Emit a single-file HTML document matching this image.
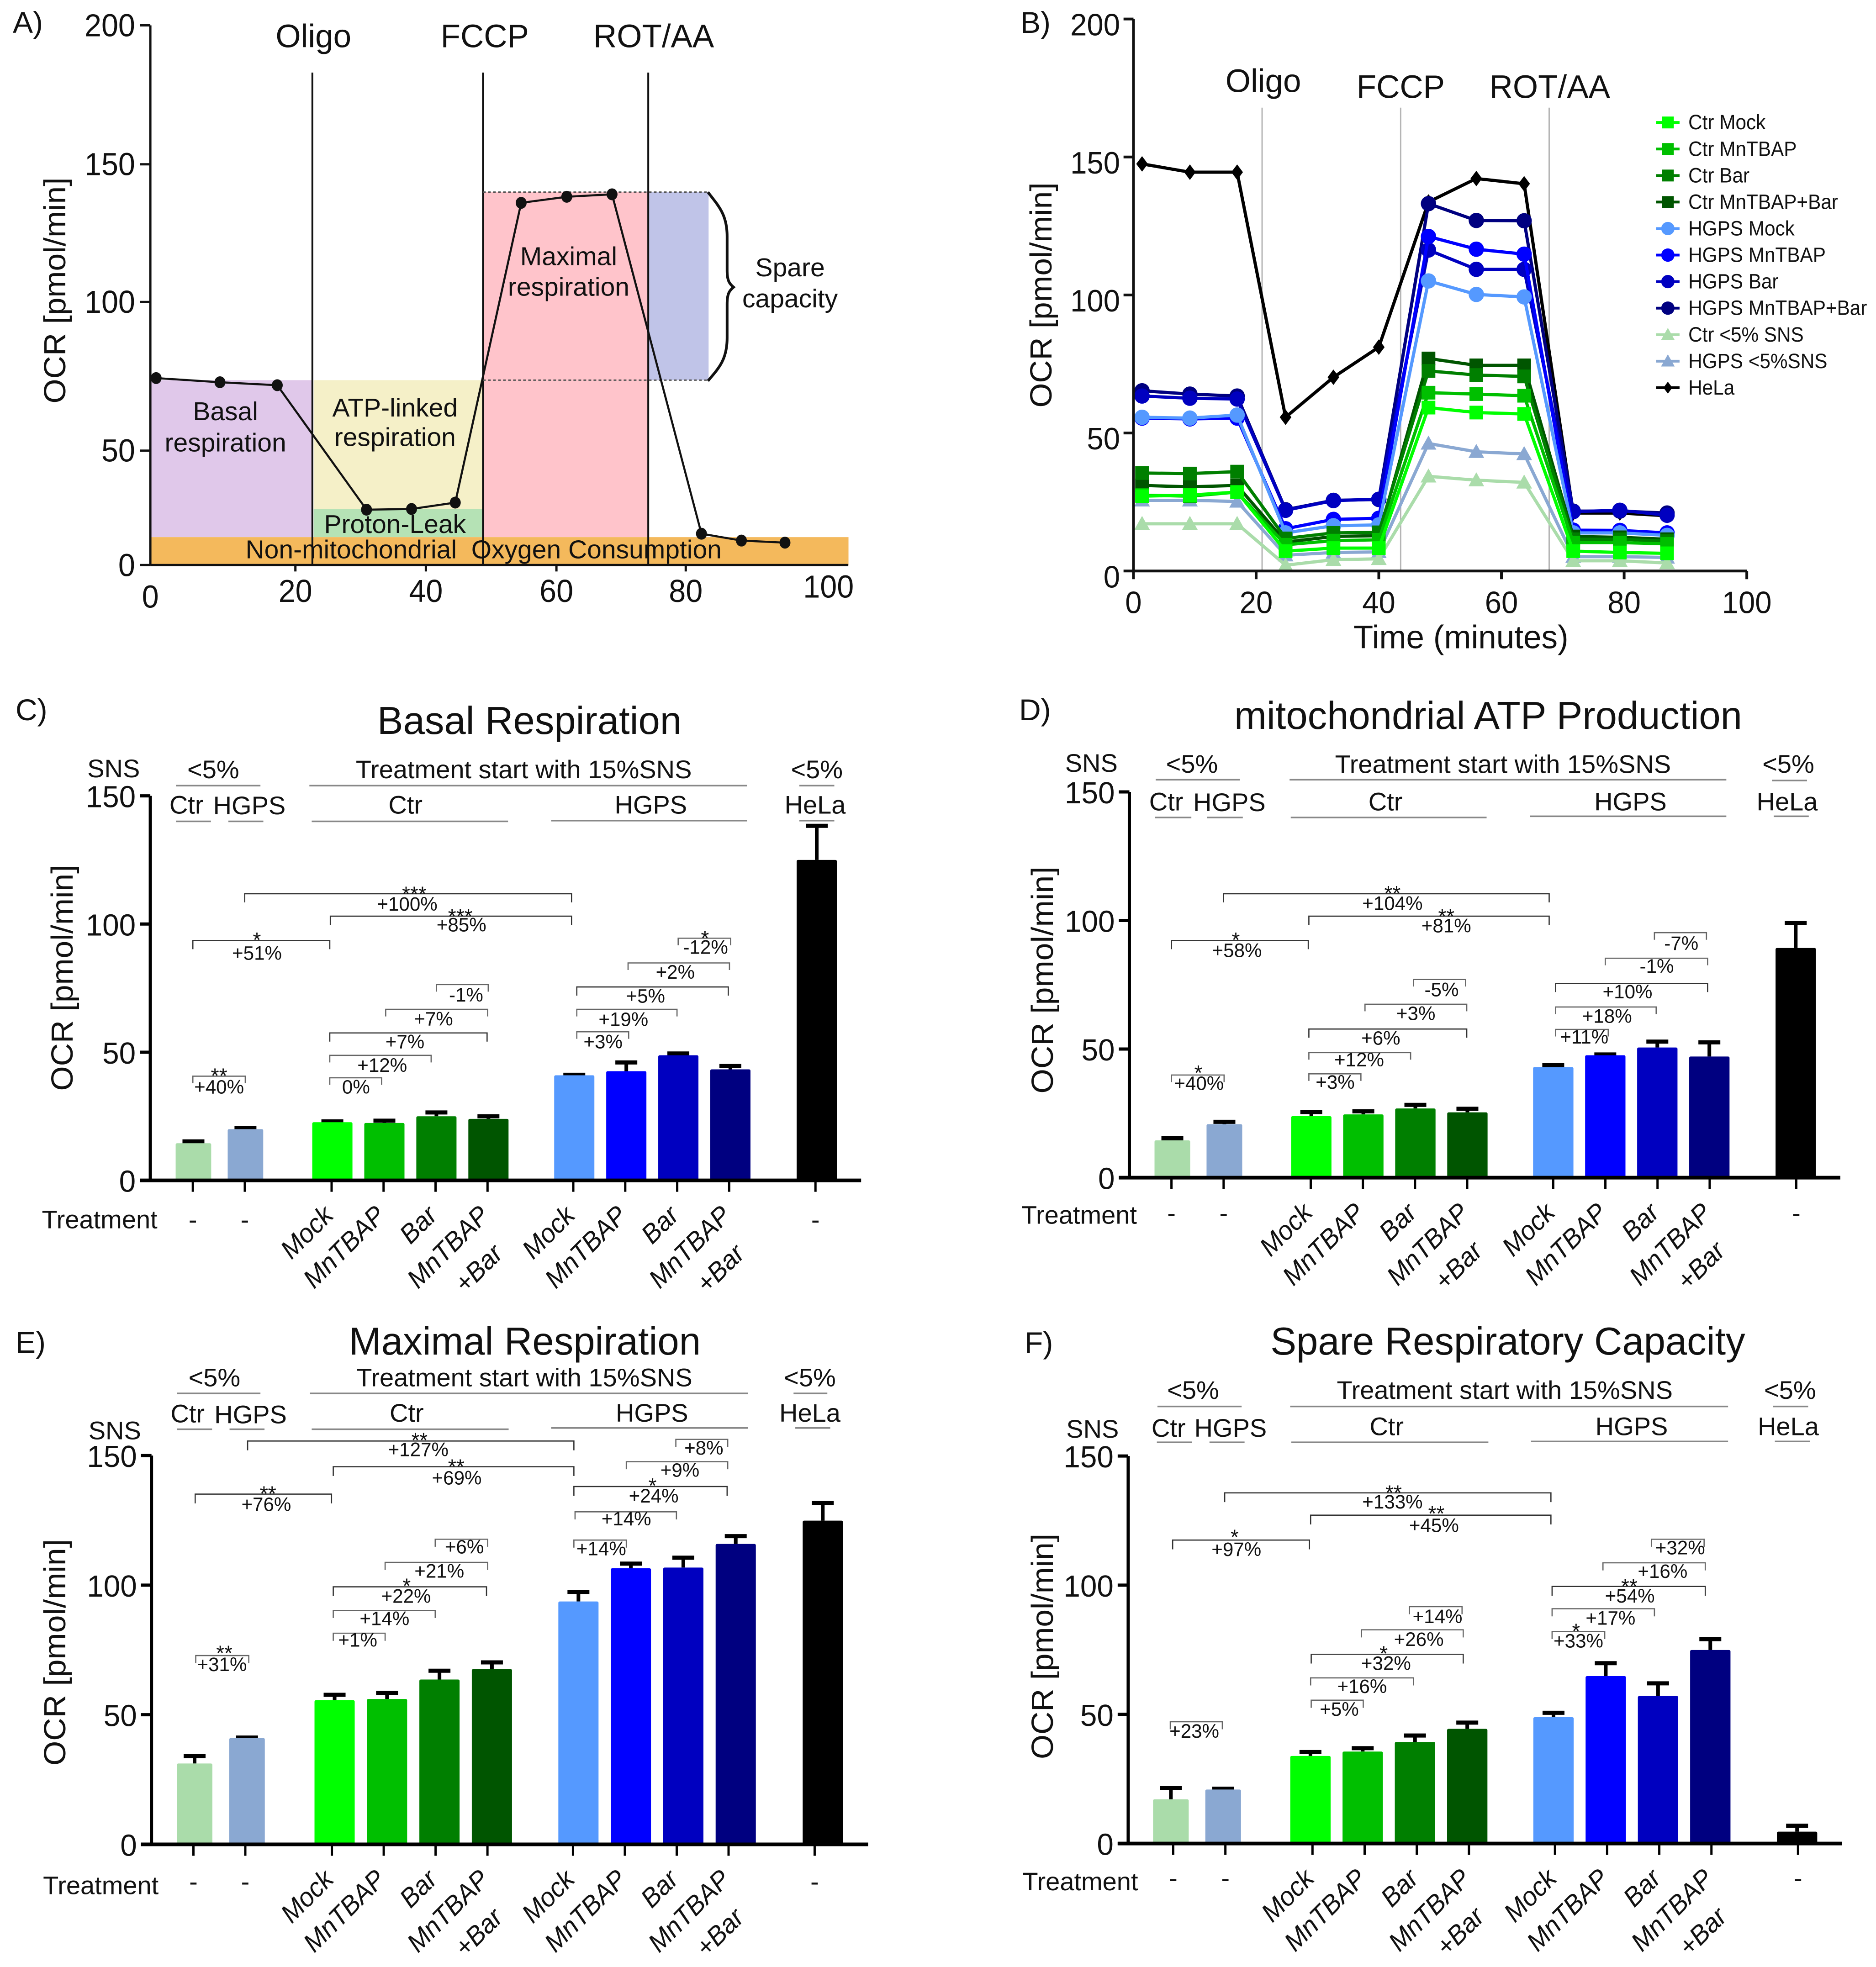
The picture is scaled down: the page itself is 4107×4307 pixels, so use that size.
<!DOCTYPE html>
<html lang="en">
<head>
<meta charset="utf-8">
<title>Mitochondrial respiration figure</title>
<style>
html,body{margin:0;padding:0;background:#fff}
svg{display:block}
text{font-family:"Liberation Sans",sans-serif;fill:#111;white-space:pre}
</style>
</head>
<body>
<svg id="figure" xmlns="http://www.w3.org/2000/svg" width="4107" height="4307" viewBox="0 0 4107 4307">
<rect x="0" y="0" width="4107" height="4307" fill="#fff"/>
<g id="layerA"></g>
<g id="layerB"></g>
<g id="layerC"></g>
<g id="layerD"></g>
<g id="layerE"></g>
<g id="layerF"></g>

<text x="28" y="72" font-size="66">A)</text>
<text x="2234" y="72" font-size="66">B)</text>
<text x="34" y="1577" font-size="66">C)</text>
<text x="2231" y="1577" font-size="66">D)</text>
<text x="34" y="2962" font-size="66">E)</text>
<text x="2243" y="2963" font-size="66">F)</text>

<text x="1159" y="1607" font-size="85" text-anchor="middle">Basal Respiration</text>
<text x="3258" y="1596" font-size="85" text-anchor="middle">mitochondrial ATP Production</text>
<text x="1149" y="2966" font-size="85" text-anchor="middle">Maximal Respiration</text>
<text x="3301" y="2966" font-size="85" text-anchor="middle">Spare Respiratory Capacity</text>

<text transform="translate(143,636) rotate(-90)" font-size="67" text-anchor="middle" textLength="495" lengthAdjust="spacingAndGlyphs">OCR [pmol/min]</text>
<text transform="translate(2302,646) rotate(-90)" font-size="67" text-anchor="middle" textLength="493" lengthAdjust="spacingAndGlyphs">OCR [pmol/min]</text>
<text transform="translate(159,2141) rotate(-90)" font-size="67" text-anchor="middle" textLength="495" lengthAdjust="spacingAndGlyphs">OCR [pmol/min]</text>
<text transform="translate(2305,2146) rotate(-90)" font-size="67" text-anchor="middle" textLength="497" lengthAdjust="spacingAndGlyphs">OCR [pmol/min]</text>
<text transform="translate(143,3618) rotate(-90)" font-size="67" text-anchor="middle" textLength="496" lengthAdjust="spacingAndGlyphs">OCR [pmol/min]</text>
<text transform="translate(2305,3605) rotate(-90)" font-size="67" text-anchor="middle" textLength="494" lengthAdjust="spacingAndGlyphs">OCR [pmol/min]</text>
</svg>

<script>
/* ---------- Panel A data ---------- */
const aTimes = [0.8, 9.6, 17.5, 30.9, 37.8, 44.5, 54.6, 61.6, 68.6, 82.2, 87.8, 93.9];
const aOcr = [74.4, 73.0, 72.0, 24.2, 24.5, 27.3, 136.0, 138.2, 139.1, 13.7, 10.7, 9.8];
const aXTickLabels = [0, 20, 40, 60, 80, 100];
const aYTickLabels = [0, 50, 100, 150, 200];

/* ---------- Panel B data ---------- */
const bTimes = [1.4, 9.2, 16.9, 24.8, 32.6, 40, 48.1, 55.9, 63.7, 71.7, 79.3, 87];
const bXTickLabels = [0, 20, 40, 60, 80, 100];
const bYTickLabels = [0, 50, 100, 150, 200];
const bCtrMock = [27.1, 27.5, 28.6, 7.2, 8.3, 8.3, 59.2, 57.4, 56.9, 7.2, 6.7, 6.4];
const bCtrMnTBAP = [27.5, 27.1, 28.6, 9.5, 11, 11.3, 64.6, 64.1, 63.5, 10.3, 10.3, 9.8];
const bCtrBar = [35.5, 35.3, 36, 11.8, 13.8, 14, 72.5, 71, 70.5, 11.5, 11.5, 10.8];
const bCtrMnTBAPBar = [31, 30.5, 31, 10.5, 12.5, 12.8, 77, 74.5, 74.5, 12.5, 12.2, 11.5];
const bHgpsMock = [55.7, 55.4, 56.5, 13.8, 16.4, 16.7, 105.1, 100.2, 99.3, 13.8, 13.8, 12.9];
const bHgpsMnTBAP = [55.4, 55.1, 55.4, 15.3, 18.7, 19.1, 121.2, 116.6, 114.8, 14.8, 14.7, 13.8];
const bHgpsBar = [63.4, 62.6, 62.3, 22, 25.5, 26, 116.3, 109.3, 109.3, 21.5, 22, 20.2];
const bHgpsMnTBAPBar = [65.3, 64.1, 63.4, 22.2, 25.6, 25.9, 133.1, 127, 126.9, 21.7, 21.7, 21];
const bCtrLow = [17.1, 17.1, 17.1, 2.1, 4.1, 4.4, 34.3, 32.9, 32.1, 3.7, 3.7, 2.9];
const bHgpsLow = [25.6, 25.6, 25.2, 5.7, 6.7, 6.9, 46.2, 43.2, 42.4, 5.2, 5.2, 4.9];
const bHeLa = [147.5, 144.5, 144.5, 55.7, 70.2, 81.1, 133.7, 142.2, 140.3, 21, 21, 20];
const bSeriesNames = ["Ctr Mock", "Ctr MnTBAP", "Ctr Bar", "Ctr MnTBAP+Bar", "HGPS Mock", "HGPS MnTBAP", "HGPS Bar", "HGPS MnTBAP+Bar", "Ctr <5% SNS", "HGPS <5%SNS", "HeLa"];

/* ---------- Bar panel data ---------- */
const barCategories = ["-", "-", "Mock", "MnTBAP", "Bar", "MnTBAP|+Bar", "Mock", "MnTBAP", "Bar", "MnTBAP|+Bar", "-"];
const barYTickLabels = [0, 50, 100, 150];
const basalValues = [14.5, 20, 22.7, 22.4, 25, 24, 41, 42.6, 48.8, 43.3, 125];
const basalErrors = [0.7, 0.4, 0.3, 0.9, 1.5, 1, 0.2, 3.4, 0.7, 1.3, 13.3];
const atpValues = [14.5, 20.8, 23.9, 24.6, 26.9, 25.4, 43, 47.6, 50.6, 47.1, 89.3];
const atpErrors = [0.8, 0.9, 1.6, 1.2, 1.4, 1.4, 0.7, 0.3, 2.3, 5.5, 9.7];
const maximalValues = [31.2, 41, 55.6, 56.1, 63.6, 67.6, 93.7, 106.5, 106.8, 115.9, 124.9];
const maximalErrors = [2.8, 0.2, 2.1, 2.3, 3.4, 2.6, 3.7, 1.8, 3.8, 3, 6.8];
const spareValues = [17.1, 20.9, 33.9, 35.6, 39.3, 44.4, 48.9, 64.8, 57.1, 74.9, 4.6];
const spareErrors = [4.3, 0.3, 1.5, 1.3, 2.5, 2.4, 1.7, 5, 4.9, 4.2, 2.3];

/* ---------- Styles ---------- */
const barColors = ["#aadcaa", "#8aa8d2", "#00ff00", "#00bf00", "#007f00", "#005500", "#5599ff", "#0000ff", "#0000c0", "#000080", "#000000"];
const bSeriesColors = ["#00ff00", "#00bf00", "#007f00", "#005500", "#5599ff", "#0000ff", "#0000c0", "#000080", "#aadcaa", "#8aa8d2", "#000000"];
const bSeriesShapes = ["square", "square", "square", "square", "circle", "circle", "circle", "circle", "triangle", "triangle", "diamond"];

const SVGNS = "http://www.w3.org/2000/svg";

function zoomFrame(x0, y0, w, h) {
  return { X: function (z) { return x0 + z * w / 1568; }, Y: function (z) { return y0 + z * h / 1568; } };
}
function piecewise(dom, rng) {
  return function (v) {
    let i = 1;
    while (i < dom.length - 1 && v > dom[i]) i++;
    const t = (v - dom[i - 1]) / (dom[i] - dom[i - 1]);
    return rng[i - 1] + t * (rng[i] - rng[i - 1]);
  };
}
function shape(parent, tag, attrs, name) {
  const e = document.createElementNS(SVGNS, tag);
  for (const k in attrs) e.setAttribute(k, attrs[k]);
  
  
  parent.appendChild(e);
  return e;
}
function label(parent, str, x, y, size, name, anchor, sx, rot, italic) {
  const e = document.createElementNS(SVGNS, "text");
  e.textContent = str;
  e.setAttribute("font-size", size);
  e.setAttribute("text-anchor", anchor || "middle");
  e.setAttribute("transform", "translate(" + x + "," + y + ")" + (rot ? " rotate(" + rot + ")" : "") + " scale(" + (sx || 1) + ",1)");
  if (italic) e.setAttribute("font-style", "italic");
  
  
  parent.appendChild(e);
  return e;
}
function line(parent, x1, y1, x2, y2, stroke, w, name, extra) {
  const a = { x1: x1, y1: y1, x2: x2, y2: y2, stroke: stroke, "stroke-width": w };
  if (extra) for (const k in extra) a[k] = extra[k];
  return shape(parent, "line", a, name);
}

/* ---------- Panel A ---------- */
(function () {
  const g = document.getElementById("layerA");
  const F = zoomFrame(0, 0, 2000, 1450);
  const xZ = piecewise(aXTickLabels, [258, 507, 731, 955, 1177, 1422]);
  const yZ = piecewise(aYTickLabels, [1338, 1067, 715, 389, 60]);
  const x = function (v) { return F.X(xZ(v)); };
  const y = function (v) { return F.Y(yZ(v)); };
  function region(x1, x2, v1, v2, fill, name) {
    shape(g, "rect", { x: x(x1), y: y(v2), width: x(x2) - x(x1), height: y(v1) - y(v2), fill: fill }, name);
  }
  region(0, 22.6, 12.2, 73.7, "#e0c8ea", "basal-respiration-region");
  region(22.8, 48.75, 24.5, 73.7, "#f5f0c8", "atp-linked-region");
  region(22.8, 48.75, 12.2, 24.5, "#b5e2b5", "proton-leak-region");
  region(48.75, 74.2, 12.2, 139.9, "#ffc4cb", "maximal-respiration-region");
  region(74.2, 83.2, 73.7, 139.9, "#c0c4e8", "spare-capacity-region");
  region(0, 102.8, 0, 12.2, "#f4b95c", "non-mitochondrial-region");

  [22.6, 48.75, 74.2].forEach(function (v) {
    line(g, x(v), y(183), x(v), y(0), "#111", 4, "injection-line");
  });
  [139.9, 73.7].forEach(function (v) {
    line(g, x(48.75), y(v), x(83.2), y(v), "#555", 3, "dashed-guide", { "stroke-dasharray": "6 5" });
  });
  const bx = F.X, by = F.Y;
  shape(g, "path", { d: "M" + bx(1215) + " " + by(455) + " C" + bx(1235) + " " + by(490) + " " + bx(1248) + " " + by(510) + " " + bx(1248) + " " + by(560) +
    " L" + bx(1248) + " " + by(640) + " C" + bx(1248) + " " + by(665) + " " + bx(1252) + " " + by(672) + " " + bx(1259) + " " + by(680) +
    " C" + bx(1252) + " " + by(688) + " " + bx(1248) + " " + by(695) + " " + bx(1248) + " " + by(720) +
    " L" + bx(1248) + " " + by(800) + " C" + bx(1248) + " " + by(850) + " " + bx(1235) + " " + by(870) + " " + bx(1215) + " " + by(902),
    fill: "none", stroke: "#111", "stroke-width": 6 }, "spare-capacity-brace");

  line(g, x(0), y(200), x(0), y(0), "#111", 5, "y-axis");
  line(g, F.X(258), y(0), F.X(1456), y(0), "#111", 5, "x-axis");
  aYTickLabels.forEach(function (v) {
    line(g, F.X(240), y(v), F.X(258), y(v), "#111", 5, "y-tick");
    label(g, String(v), F.X(232), y(v) + 24, 70, "y-tick-label", "end", 0.95);
  });
  aXTickLabels.forEach(function (v) {
    if (v > 0 && v < 100) line(g, x(v), y(0), x(v), y(0) + 14, "#111", 5, "x-tick");
    const dz = v === 0 ? 14 : (v === 100 ? -10 : 0);
    label(g, String(v), x(v), F.Y(1425 + dz), 70, "x-tick-label", "middle", 0.95);
  });
  shape(g, "polyline", { points: aTimes.map(function (t, i) { return x(t) + "," + y(aOcr[i]); }).join(" "), fill: "none", stroke: "#111", "stroke-width": 4.5 }, "ocr-line");
  aTimes.forEach(function (t, i) {
    shape(g, "ellipse", { cx: x(t), cy: y(aOcr[i]), rx: 12, ry: 13, fill: "#111" }, "ocr-point");
  });
  [["Oligo", 538], ["FCCP", 832], ["ROT/AA", 1122]].forEach(function (d) {
    label(g, d[0], F.X(d[1]), F.Y(112), 71, "injection-label");
  });
  [["Basal", 387, 995], ["respiration", 387, 1069], ["ATP-linked", 678, 986], ["respiration", 678, 1056], ["Proton-Leak", 678, 1262],
   ["Maximal", 976, 628], ["respiration", 976, 700], ["Spare", 1356, 654], ["capacity", 1356, 728],
   ["Non-mitochondrial  Oxygen Consumption", 830, 1322]].forEach(function (d) {
    label(g, d[0], F.X(d[1]), F.Y(d[2]), 57, "region-label");
  });
})();

/* ---------- Panel B ---------- */
(function () {
  const g = document.getElementById("layerB");
  const F = zoomFrame(2100, 0, 2007, 1450);
  const x = function (v) { return F.X(298 + 10.49 * v); };
  const y = function (v) { return F.Y(1352 - 6.535 * v); };
  const seriesValues = [bCtrMock, bCtrMnTBAP, bCtrBar, bCtrMnTBAPBar, bHgpsMock, bHgpsMnTBAP, bHgpsBar, bHgpsMnTBAPBar, bCtrLow, bHgpsLow, bHeLa];

  function marker(parent, kind, cx, cy, r, fill, name) {
    if (kind === "square") shape(parent, "rect", { x: cx - r, y: cy - r, width: 2 * r, height: 2 * r, fill: fill }, name);
    else if (kind === "circle") shape(parent, "circle", { cx: cx, cy: cy, r: r * 1.12, fill: fill }, name);
    else if (kind === "triangle") shape(parent, "polygon", { points: cx + "," + (cy - r * 1.15) + " " + (cx + r * 1.15) + "," + (cy + r * 0.9) + " " + (cx - r * 1.15) + "," + (cy + r * 0.9), fill: fill }, name);
    else shape(parent, "polygon", { points: cx + "," + (cy - r) + " " + (cx + r * 0.75) + "," + cy + " " + cx + "," + (cy + r) + " " + (cx - r * 0.75) + "," + cy, fill: fill }, name);
  }

  [518, 755, 1009].forEach(function (z) {
    line(g, F.X(z), F.Y(255), F.X(z), y(0), "#b5b5b5", 3, "injection-line");
  });
  [["Oligo", 520, 218], ["FCCP", 755, 232], ["ROT/AA", 1010, 232]].forEach(function (d) {
    label(g, d[0], F.X(d[1]), F.Y(d[2]), 71, "injection-label");
  });

  [10, 7, 6, 5, 4, 9, 8, 3, 2, 1, 0].forEach(function (s) {
    const vals = seriesValues[s];
    shape(g, "polyline", { points: bTimes.map(function (t, i) { return x(t) + "," + y(vals[i]); }).join(" "), fill: "none", stroke: bSeriesColors[s], "stroke-width": 7 }, "series-line");
    bTimes.forEach(function (t, i) {
      marker(g, bSeriesShapes[s], x(t), y(vals[i]), s === 10 ? 17 : 15, bSeriesColors[s], "series-point");
    });
  });

  line(g, x(0), y(200), x(0), y(0), "#111", 6, "y-axis");
  line(g, x(0), y(0), x(100), y(0), "#111", 6, "x-axis");
  bYTickLabels.forEach(function (v) {
    line(g, F.X(281), y(v), x(0), y(v), "#111", 6, "y-tick");
    label(g, String(v), F.X(275), y(v) + 36, 68, "y-tick-label", "end", 0.96);
  });
  bXTickLabels.forEach(function (v) {
    line(g, x(v), y(0), x(v), y(0) + 18, "#111", 6, "x-tick");
    label(g, String(v), x(v), F.Y(1452), 68, "x-tick-label", "middle", 0.96);
  });
  label(g, "Time (minutes)", F.X(858), F.Y(1535), 71, "x-axis-title");

  bSeriesNames.forEach(function (n, i) {
    const zy = 290 + i * 62.8;
    const cy = F.Y(zy);
    const leg = shape(g, "g", {}, "legend-entry");
    line(leg, F.X(1192), cy, F.X(1232), cy, bSeriesColors[i], 6, "legend-line");
    marker(leg, bSeriesShapes[i], F.X(1212), cy, 13, bSeriesColors[i], "legend-marker");
    label(leg, n, F.X(1247), cy + 15, 45, "legend-label", "start", 0.94);
  });
})();

/* ---------- Bar panels ---------- */
function slot(i) { return i < 2 ? i : (i < 6 ? i + 0.67 : (i < 10 ? i + 1.32 : i + 1.98)); }

function drawBarPanel(cfg, values, errors) {
  const g = document.getElementById(cfg.layer);
  const F = zoomFrame(cfg.x0, cfg.y0, 2000 + (cfg.x0 ? 7 : 0), cfg.h);
  const y = function (v) { return F.Y(cfg.zero - v * cfg.unit); };
  const tickX = function (i) { return F.X(cfg.base + cfg.tickStep * slot(i)); };
  const barX = function (i) { return F.X(cfg.barBase + cfg.barStep * slot(i)); };

  cfg.rules.forEach(function (r) {
    line(g, F.X(r[0]), F.Y(r[2]), F.X(r[1]), F.Y(r[2]), "#888", 3.5, "group-rule");
  });
  cfg.labels.forEach(function (l) {
    label(g, l[0], F.X(l[1]), F.Y(l[2]), 56, "group-label");
  });

  values.forEach(function (v, i) {
    const w = (i < 2 ? 61 : 69) * F.X(1) - (i < 2 ? 61 : 69) * F.X(0);
    const cx = barX(i);
    const top = y(v), errTop = y(v + errors[i]);
    line(g, cx, top, cx, errTop, "#000", 8, "error-bar-stem");
    line(g, cx - 24, errTop, cx + 24, errTop, "#000", 9, "error-bar-cap");
    shape(g, "rect", { x: cx - w / 2, y: top, width: w, height: y(0) - top, rx: 3, fill: barColors[i] }, "bar");
  });

  line(g, F.X(cfg.axis), y(150), F.X(cfg.axis), y(0), "#000", 7, "y-axis");
  line(g, F.X(cfg.axis - 18), y(0), F.X(cfg.end), y(0), "#000", 8, "x-axis");
  barYTickLabels.forEach(function (v) {
    line(g, F.X(cfg.axis - 18), y(v), F.X(cfg.axis), y(v), "#000", 7, "y-tick");
    label(g, String(v), F.X(cfg.axis - 25), y(v) + 25, 67, "y-tick-label", "end", 0.98);
  });

  barCategories.forEach(function (c, i) {
    const tx = tickX(i);
    line(g, tx, y(0), tx, y(0) + 25, "#000", 5, "x-tick");
    if (c === "-") {
      label(g, "-", tx, F.Y(cfg.dash), 56, "treatment-label");
    } else {
      const parts = c.split("|");
      const px = tx + 7, py = y(0) + 80;
      label(g, parts[0], px, py, 58, "treatment-label", "end", 0.97, -45, true);
      if (parts[1]) label(g, parts[1], px + 30, py + 84, 58, "treatment-label", "end", 0.97, -45, true);
    }
  });

  cfg.notes.forEach(function (a) {
    const ln = a[2];
    const shade = (a[1] - a[0]) > 200 ? "#333" : "#666";
    const drop = F.Y(ln + ((a[1] - a[0]) > 200 ? 22 : 18));
    shape(g, "polyline", { points: F.X(a[0]) + "," + drop + " " + F.X(a[0]) + "," + F.Y(ln) + " " + F.X(a[1]) + "," + F.Y(ln) + " " + F.X(a[1]) + "," + drop, fill: "none", stroke: shade, "stroke-width": 2.6 }, "comparison-bracket");
    label(g, a[3], F.X(a[4]), F.Y(a[5]), 43, "comparison-percent", "middle", 0.98);
    if (a[6]) label(g, a[6], F.X(a[7]), F.Y(a[8]) + 26, 46, "significance-stars");
  });
}

drawBarPanel({
  layer: "layerC", x0: 0, y0: 1480, h: 1350, zero: 1283, unit: 6.52, axis: 258, end: 1478, base: 331, tickStep: 89.2, barBase: 332, barStep: 89.3, dash: 1405,
  labels: [["SNS", 195, 258], ["<5%", 366, 260], ["Treatment start with 15%SNS", 899, 260], ["<5%", 1402, 260], ["Ctr", 320, 350], ["HGPS", 428, 352], ["Ctr", 696, 350], ["HGPS", 1117, 350], ["HeLa", 1399, 350], ["Treatment", 171, 1405]],
  rules: [[302, 447, 279], [531, 1282, 279], [1372, 1432, 279], [302, 362, 370], [392, 452, 370], [535, 872, 370], [946, 1282, 368], [1372, 1432, 368]],
  notes: [
    [420, 981, 554, "+100%", 699, 597, "***", 711, 543],
    [567, 981, 611, "+85%", 792, 650, "***", 790, 600],
    [331, 566, 673, "+51%", 441, 722, "*", 441, 660],
    [331, 421, 1018, "+40%", 376, 1062, "**", 376, 1005],
    [566, 655, 1022, "0%", 611, 1062],
    [566, 740, 965, "+12%", 656, 1007],
    [566, 836, 908, "+7%", 695, 947],
    [662, 837, 848, "+7%", 744, 889],
    [749, 838, 785, "-1%", 800, 828],
    [990, 1079, 905, "+3%", 1035, 947],
    [990, 1162, 848, "+19%", 1070, 890],
    [990, 1250, 791, "+5%", 1108, 831],
    [1078, 1252, 730, "+2%", 1159, 770],
    [1164, 1254, 667, "-12%", 1211, 707, "*", 1210, 655]
  ]
}, basalValues, basalErrors);

drawBarPanel({
  layer: "layerD", x0: 2100, y0: 1480, h: 1350, zero: 1276, unit: 6.54, axis: 291, end: 1507, base: 363, tickStep: 89.2, barBase: 364.5, barStep: 89, dash: 1388,
  labels: [["SNS", 226, 244], ["<5%", 398, 246], ["Treatment start with 15%SNS", 930, 247], ["<5%", 1418, 246], ["Ctr", 354, 342], ["HGPS", 462, 344], ["Ctr", 729, 342], ["HGPS", 1148, 342], ["HeLa", 1416, 342], ["Treatment", 205, 1393]],
  rules: [[336, 480, 264], [565, 1312, 264], [1390, 1450, 266], [335, 397, 360], [424, 485, 360], [567, 902, 360], [976, 1312, 357], [1393, 1453, 357]],
  notes: [
    [452, 1009, 554, "+104%", 741, 595, "**", 741, 541],
    [598, 1009, 611, "+81%", 833, 652, "**", 833, 600],
    [363, 597, 673, "+58%", 475, 715, "*", 473, 660],
    [363, 453, 1015, "+40%", 410, 1053, "*", 409, 998],
    [598, 687, 1012, "+3%", 643, 1050],
    [598, 772, 958, "+12%", 684, 993],
    [598, 868, 898, "+6%", 721, 938],
    [694, 868, 835, "+3%", 781, 875],
    [777, 866, 772, "-5%", 825, 815],
    [1020, 1110, 899, "+11%", 1069, 935],
    [1020, 1192, 842, "+18%", 1108, 882],
    [1020, 1280, 782, "+10%", 1143, 820],
    [1105, 1280, 718, "-1%", 1193, 755],
    [1189, 1278, 653, "-7%", 1235, 697]
  ]
}, atpValues, atpErrors);

drawBarPanel({
  layer: "layerE", x0: 0, y0: 2860, h: 1447, zero: 1277, unit: 6.15, axis: 260, end: 1490, base: 332, tickStep: 89, barBase: 334, barStep: 90, dash: 1386,
  labels: [["<5%", 368, 190], ["Treatment start with 15%SNS", 900, 190], ["<5%", 1390, 190], ["SNS", 197, 316], ["Ctr", 322, 276], ["HGPS", 430, 278], ["Ctr", 698, 274], ["HGPS", 1119, 274], ["HeLa", 1390, 274], ["Treatment", 173, 1395]],
  rules: [[304, 447, 207], [532, 1284, 207], [1362, 1420, 207], [304, 364, 292], [394, 454, 292], [535, 873, 292], [946, 1284, 289], [1365, 1425, 289]],
  notes: [
    [425, 985, 320, "+127%", 718, 356, "**", 720, 307],
    [572, 985, 381, "+69%", 784, 423, "**", 783, 370],
    [335, 569, 446, "+76%", 457, 486, "**", 460, 434],
    [336, 427, 829, "+31%", 381, 866, "**", 385, 812],
    [572, 661, 776, "+1%", 614, 808],
    [572, 747, 722, "+14%", 660, 757],
    [572, 835, 666, "+22%", 697, 704, "*", 698, 653],
    [661, 837, 608, "+21%", 754, 644],
    [747, 837, 553, "+6%", 797, 587],
    [985, 1075, 555, "+14%", 1032, 591],
    [987, 1161, 488, "+14%", 1075, 520],
    [985, 1248, 428, "+24%", 1122, 466, "*", 1120, 415],
    [1075, 1249, 369, "+9%", 1167, 405],
    [1160, 1249, 316, "+8%", 1208, 352]
  ]
}, maximalValues, maximalErrors);

drawBarPanel({
  layer: "layerF", x0: 2100, y0: 2860, h: 1447, zero: 1275, unit: 6.13, axis: 289, end: 1510, base: 366, tickStep: 89.2, barBase: 362, barStep: 89.4, dash: 1378,
  labels: [["<5%", 400, 220], ["Treatment start with 15%SNS", 933, 220], ["<5%", 1421, 220], ["SNS", 228, 312], ["Ctr", 358, 310], ["HGPS", 464, 310], ["Ctr", 731, 306], ["HGPS", 1150, 306], ["HeLa", 1418, 306], ["Treatment", 207, 1386]],
  rules: [[339, 483, 238], [566, 1315, 238], [1392, 1452, 238], [338, 398, 323], [428, 488, 323], [568, 905, 323], [978, 1315, 321], [1395, 1455, 321]],
  notes: [
    [454, 1012, 443, "+133%", 741, 480, "**", 743, 432],
    [601, 1012, 496, "+45%", 812, 536, "**", 816, 481],
    [365, 599, 555, "+97%", 474, 593, "*", 471, 537],
    [361, 450, 986, "+23%", 402, 1024],
    [602, 691, 935, "+5%", 650, 972],
    [601, 777, 882, "+16%", 689, 918],
    [602, 862, 826, "+32%", 730, 863, "*", 726, 813],
    [688, 862, 768, "+26%", 786, 806],
    [770, 860, 713, "+14%", 818, 752],
    [1014, 1104, 772, "+33%", 1059, 810, "*", 1055, 760],
    [1014, 1189, 718, "+17%", 1114, 756],
    [1014, 1276, 665, "+54%", 1147, 703, "**", 1146, 654],
    [1101, 1276, 609, "+16%", 1203, 645],
    [1184, 1274, 553, "+32%", 1233, 589]
  ]
}, spareValues, spareErrors);
</script>
</body>
</html>
